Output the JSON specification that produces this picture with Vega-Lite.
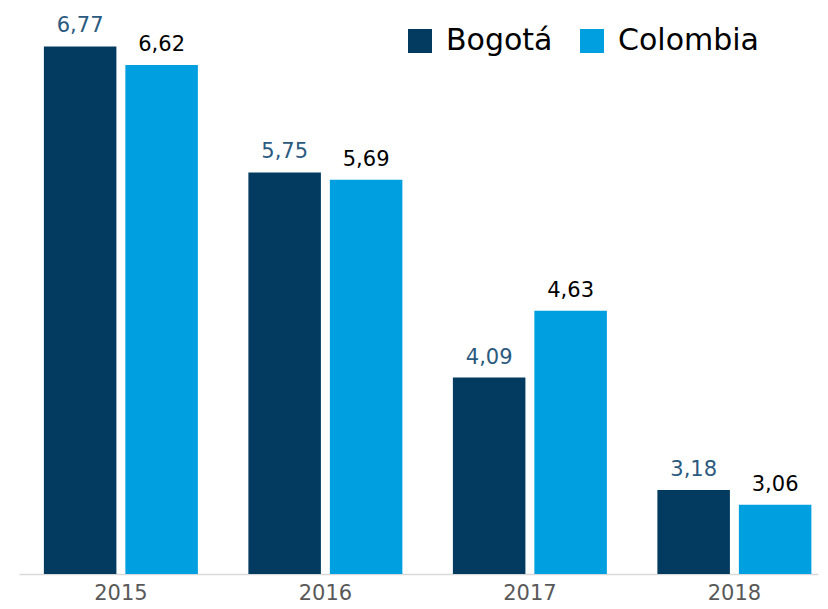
{
  "$schema": "https://vega.github.io/schema/vega-lite/v6.json",
  "autosize": {"type": "none"},
  "width": 799,
  "height": 556,
  "padding": {"left": 19, "top": 18, "right": 10, "bottom": 35},
  "background": "white",
  "config": {
    "font": "DejaVu Sans",
    "view": {"stroke": null},
    "locale": {"number": {"decimal": ",", "thousands": ".", "grouping": [3], "currency": ["", ""]}}
  },
  "data": {
    "values": [
      {"year": "2015", "series": "Bogotá", "value": 6.77},
      {"year": "2015", "series": "Colombia", "value": 6.62},
      {"year": "2016", "series": "Bogotá", "value": 5.75},
      {"year": "2016", "series": "Colombia", "value": 5.69},
      {"year": "2017", "series": "Bogotá", "value": 4.09},
      {"year": "2017", "series": "Colombia", "value": 4.63},
      {"year": "2018", "series": "Bogotá", "value": 3.18},
      {"year": "2018", "series": "Colombia", "value": 3.06}
    ]
  },
  "encoding": {
    "x": {
      "field": "year", "type": "nominal",
      "scale": {"paddingInner": 0.247, "paddingOuter": 0.077, "align": 0.79},
      "axis": {
        "title": null, "labelAngle": 0, "ticks": false, "grid": false,
        "domainColor": "#D9D9D9", "domainWidth": 1.5,
        "labelFontSize": 21, "labelColor": "#595959", "labelPadding": 8, "labelDx": -6
      }
    },
    "xOffset": {"field": "series", "type": "nominal", "sort": ["Bogotá", "Colombia"], "scale": {"paddingInner": 0.11, "paddingOuter": 0}},
    "y": {
      "field": "value", "type": "quantitative",
      "scale": {"domain": [2.5, 7], "zero": false, "nice": false, "clamp": false},
      "axis": null
    }
  },
  "layer": [
    {
      "mark": {"type": "bar", "clip": true},
      "encoding": {
        "color": {
          "field": "series", "type": "nominal",
          "scale": {"domain": ["Bogotá", "Colombia"], "range": ["#023B5F", "#009FDF"]},
          "legend": {
            "title": null, "orient": "none", "legendX": 386, "legendY": 8,
            "direction": "horizontal", "symbolType": "square", "symbolSize": 576,
            "symbolStrokeWidth": 0, "labelFontSize": 30, "labelColor": "#000000",
            "labelOffset": 11, "columnPadding": 24
          }
        }
      }
    },
    {
      "mark": {"type": "text", "baseline": "bottom", "dy": -10, "fontSize": 21},
      "encoding": {
        "text": {"field": "value", "type": "quantitative", "format": ".2f"},
        "color": {"condition": {"test": "datum.series === 'Bogotá'", "value": "#2B5A80"}, "value": "#000000"}
      }
    }
  ]
}
